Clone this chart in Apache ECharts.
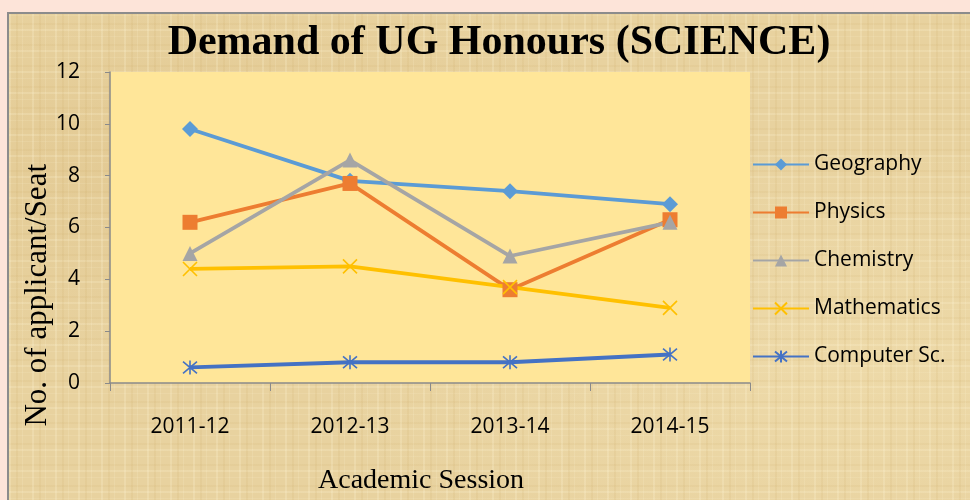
<!DOCTYPE html>
<html>
<head>
<meta charset="utf-8">
<script src="https://cdn.jsdelivr.net/npm/echarts@6/dist/echarts.min.js"></script>
<style>
  html, body { margin: 0; padding: 0; background: #fde4d9; }
  #frame {
    position: absolute; left: 7px; top: 12px; width: 975px; height: 500px;
    border-left: 2px solid #8c8c8c; border-top: 2px solid #8c8c8c;
    background-color: #e8d29f;
    background-image:
      repeating-linear-gradient(90deg, rgba(255,246,215,0.22) 0 2px, rgba(0,0,0,0) 2px 7px, rgba(200,165,95,0.12) 7px 9px, rgba(0,0,0,0) 9px 13px, rgba(255,246,215,0.15) 13px 14px, rgba(0,0,0,0) 14px 23px),
      repeating-linear-gradient(0deg, rgba(255,246,215,0.20) 0 2px, rgba(0,0,0,0) 2px 6px, rgba(200,165,95,0.10) 6px 8px, rgba(0,0,0,0) 8px 15px, rgba(255,246,215,0.12) 15px 16px, rgba(0,0,0,0) 16px 21px),
      radial-gradient(ellipse at 20% 30%, rgba(210,175,110,0.25), rgba(0,0,0,0) 40%),
      radial-gradient(ellipse at 85% 70%, rgba(250,235,190,0.3), rgba(0,0,0,0) 45%);
  }
  #chart { position: absolute; left: 0; top: 0; width: 970px; height: 500px; }
</style>
</head>
<body>
<div id="frame"></div>
<div id="chart"></div>
<script>
(function () {
    'use strict';

    // ── Data ──────────────────────────────────────
    const sessions    = ['2011-12', '2012-13', '2013-14', '2014-15'];
    const geography   = [9.8, 7.8, 7.4, 6.9];
    const physics     = [6.2, 7.7, 3.6, 6.3];
    const chemistry   = [5.0, 8.6, 4.9, 6.2];
    const mathematics = [4.4, 4.5, 3.7, 2.9];
    const computerSc  = [0.6, 0.8, 0.8, 1.1];

    // stroke-only marker paths
    const crossPath    = 'path://M0,0L10,10M10,0L0,10';
    const asteriskPath = 'path://M0,0L10,10M10,0L0,10M5,-1L5,11';

    const serif = '"Liberation Serif", "DejaVu Serif", serif';
    const sans  = '"Open Sans", "Liberation Sans", sans-serif';

    function lineSeries(name, data, color, symbol, size, stroke) {
        return {
            name: name,
            type: 'line',
            data: data,
            symbol: symbol,
            symbolSize: size,
            showAllSymbol: true,
            lineStyle: { color: color, width: 3.8 },
            itemStyle: stroke
                ? { color: 'rgba(0,0,0,0)', borderColor: color, borderWidth: 1.6 }
                : { color: color, borderWidth: 0 },
            emphasis: { disabled: true },
            animation: false
        };
    }

    const chart = echarts.init(document.getElementById('chart'), null, { renderer: 'canvas' });

    chart.setOption({
        backgroundColor: 'transparent',
        title: {
            text: 'Demand of UG Honours (SCIENCE)',
            left: 494, top: 17, textAlign: 'center',
            textStyle: { fontFamily: serif, fontWeight: 'bold', fontSize: 42, color: '#000' }
        },
        // axis titles placed by hand, as in the original they are off-centre
        graphic: [
            {
                type: 'text', left: 22, top: 164, rotation: Math.PI / 2,
                style: { text: 'No. of applicant/Seat', font: '31px ' + serif, fill: '#000' }
            },
            {
                type: 'text', left: 318, top: 467,
                style: { text: 'Academic Session', font: '28px ' + serif, fill: '#000' }
            }
        ],
        legend: {
            orient: 'vertical',
            left: 752, top: 154, padding: 0,
            itemWidth: 56, itemHeight: 15, itemGap: 27,
            textStyle: { fontFamily: sans, fontSize: 21, color: '#000' },
            data: ['Geography', 'Physics', 'Chemistry', 'Mathematics', 'Computer Sc.']
        },
        grid: {
            left: 110, right: 220, top: 72, bottom: 117,
            show: true, backgroundColor: '#ffe699', borderWidth: 0
        },
        xAxis: {
            type: 'category',
            data: sessions,
            boundaryGap: true,
            axisLine: { lineStyle: { color: '#8a8a8a', width: 1.5 } },
            axisTick: { show: true, alignWithLabel: false, length: 8, lineStyle: { color: '#8a8a8a' } },
            axisLabel: { margin: 34, fontFamily: sans, fontSize: 21, color: '#000' }
        },
        yAxis: {
            type: 'value',
            min: 0, max: 12, interval: 2,
            axisLine: { show: true, lineStyle: { color: '#8a8a8a', width: 1.5 } },
            axisTick: { show: true, length: 5, lineStyle: { color: '#8a8a8a' } },
            splitLine: { show: false },
            axisLabel: { margin: 30, fontFamily: sans, fontSize: 21, color: '#000' }
        },
        series: [
            lineSeries('Geography', geography, '#5b9bd5', 'diamond', 16, false),
            lineSeries('Physics', physics, '#ed7d31', 'rect', 15, false),
            lineSeries('Chemistry', chemistry, '#a5a5a5', 'triangle', 15, false),
            lineSeries('Mathematics', mathematics, '#ffc000', crossPath, 14, true),
            lineSeries('Computer Sc.', computerSc, '#4472c4', asteriskPath, 14, true)
        ]
    });
})();
</script>
</body>
</html>
